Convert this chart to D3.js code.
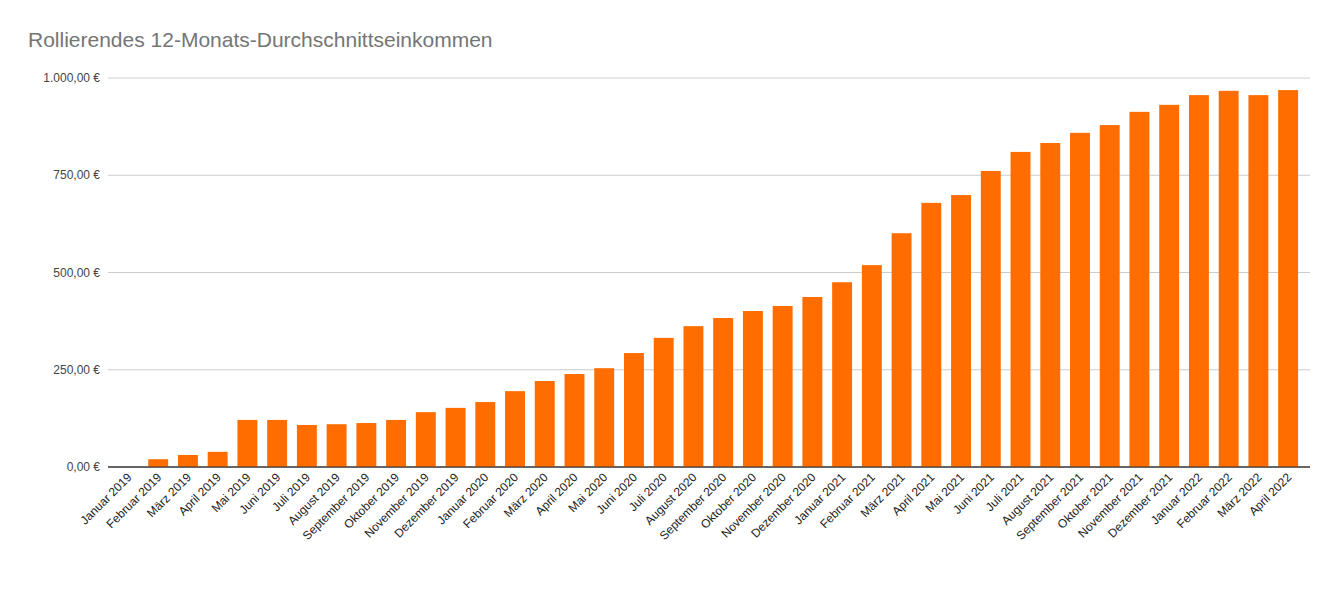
<!DOCTYPE html>
<html><head><meta charset="utf-8">
<script src="https://cdn.jsdelivr.net/npm/d3@7"></script>
<style>body{margin:0;background:#fff;font-family:"Liberation Sans",Arial,sans-serif;}</style>
</head><body>
<svg id="chart" width="1336" height="589"></svg>
<script>
const months = ["Januar","Februar","März","April","Mai","Juni","Juli","August","September","Oktober","November","Dezember"];
const categories = [];
for (const y of [2019, 2020, 2021]) months.forEach(m => categories.push(m + " " + y));
months.slice(0, 4).forEach(m => categories.push(m + " 2022"));
const values = [0, 20, 31, 39, 121, 121, 108, 110, 113, 121, 141, 152,
  167, 195, 221, 239, 254, 293, 332, 362, 383, 401, 414, 437,
  475, 519, 601, 679, 699, 761, 810, 833, 859, 879, 913, 931,
  956, 967, 956, 969];
const yTicks = [0, 250, 500, 750, 1000];

const svg = d3.select("#chart");
const x = d3.scaleBand().domain(categories).range([113.6, 1303]).paddingInner(0.33).paddingOuter(0.165);
const y = d3.scaleLinear().domain([0, 1000]).range([467, 78]);
const fmt = v => d3.format(",.2f")(v).replace(/,/g, "X").replace(".", ",").replace(/X/g, ".") + " €";

svg.append("text").attr("x", 28).attr("y", 47).attr("font-size", 21).attr("fill", "#757575").text("Rollierendes 12-Monats-Durchschnittseinkommen");

svg.append("g").selectAll("line").data(yTicks).join("line")
  .attr("x1", 108).attr("x2", 1310).attr("y1", d => y(d)).attr("y2", d => y(d))
  .attr("stroke", d => d === 0 ? "#333" : "#ccc").attr("stroke-width", 1);
svg.append("g").selectAll("text").data(yTicks).join("text")
  .attr("x", 100).attr("y", d => y(d) + 4).attr("text-anchor", "end")
  .attr("font-size", 12).attr("fill", "#444").text(fmt);

svg.append("g").selectAll("rect").data(values).join("rect")
  .attr("x", (d, i) => x(categories[i])).attr("width", x.bandwidth())
  .attr("y", d => y(d)).attr("height", d => y(0) - y(d)).attr("fill", "#ff6d01");
svg.append("line").attr("x1", 108).attr("x2", 1310).attr("y1", 467).attr("y2", 467).attr("stroke", "#333");

svg.append("g").selectAll("text").data(categories).join("text")
  .attr("transform", d => `translate(${x(d) + x.bandwidth() / 2 + 4},${478}) rotate(-45)`)
  .attr("text-anchor", "end").attr("font-size", 12).attr("fill", "#222").text(d => d);
</script>
</body></html>
